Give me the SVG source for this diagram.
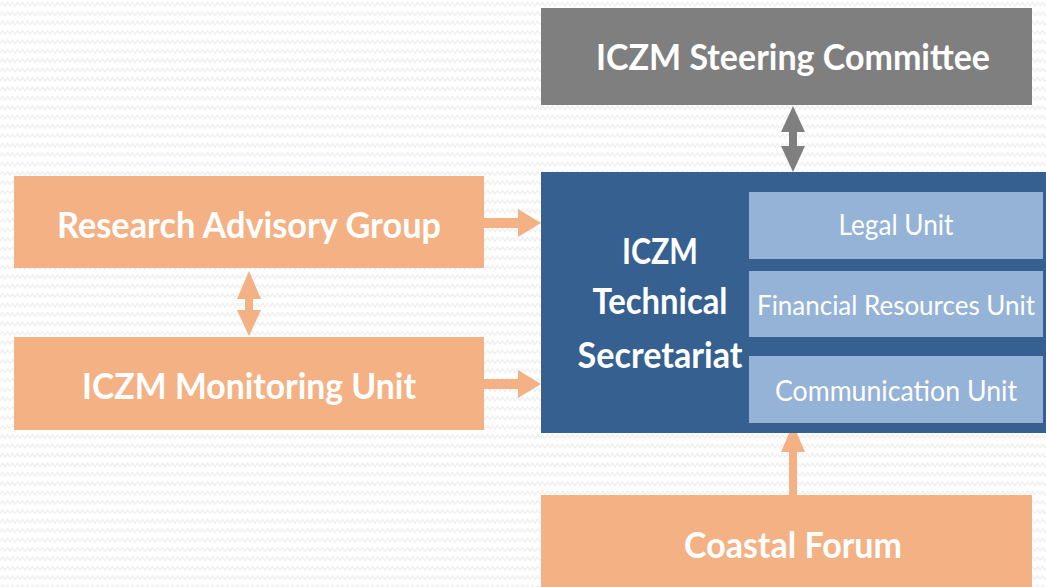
<svg xmlns="http://www.w3.org/2000/svg" width="1046" height="587" viewBox="0 0 1046 587">
  <defs>
    <pattern id="zigzag" width="10" height="9.4" patternUnits="userSpaceOnUse">
      <polyline points="0,6 2.5,2.5 5,6 7.5,2.5 10,6" fill="none" stroke="#efefef" stroke-width="1.5"/>
    </pattern>
    <style>
      .orange { fill: #F4B183; }
      .gray { fill: #7F7F7F; }
      .navy { fill: #366090; }
      .sky { fill: #95B3D7; }
      .title { font-family: Lato, "Open Sans", sans-serif; font-weight: bold; fill: #ffffff; text-anchor: middle; }
      .unit { font-family: Lato, "Open Sans", sans-serif; font-weight: normal; fill: #ffffff; text-anchor: middle; }
    </style>
  </defs>

  <!-- background -->
  <rect x="0" y="0" width="1046" height="587" fill="#ffffff"/>
  <rect x="0" y="0" width="1046" height="587" fill="url(#zigzag)"/>

  <!-- connectors -->
  <g id="connectors">
    <!-- steering committee <-> technical secretariat -->
    <polygon class="gray" points="793,106 805,132 797,132 797,146 805,146 793,172 781,146 789,146 789,132 781,132"/>
    <!-- research advisory group <-> monitoring unit -->
    <polygon class="orange" points="249,271 261,299 253,299 253,310 261,310 249,336 237,310 245,310 245,299 237,299"/>
    <!-- research advisory group -> technical secretariat -->
    <polygon class="orange" points="484,218 518,218 518,209 541,223 518,237 518,228 484,228"/>
    <!-- monitoring unit -> technical secretariat -->
    <polygon class="orange" points="484,379 518,379 518,370 541,384 518,398 518,389 484,389"/>
    <!-- coastal forum -> communication unit -->
    <polygon class="orange" points="789,495 789,452 781,452 793,424 805,452 797,452 797,495"/>
  </g>

  <g id="steering-committee">
    <rect class="gray" x="541" y="8" width="491" height="97"/>
    <text class="title" x="793" y="70" font-size="37" textLength="394" lengthAdjust="spacingAndGlyphs">ICZM Steering Committee</text>
  </g>

  <g id="research-advisory-group">
    <rect class="orange" x="14" y="176" width="470" height="92"/>
    <text class="title" x="249" y="238" font-size="37" textLength="384" lengthAdjust="spacingAndGlyphs">Research Advisory Group</text>
  </g>

  <g id="monitoring-unit">
    <rect class="orange" x="14" y="337" width="470" height="93"/>
    <text class="title" x="249" y="399" font-size="37" textLength="334" lengthAdjust="spacingAndGlyphs">ICZM Monitoring Unit</text>
  </g>

  <g id="technical-secretariat">
    <rect class="navy" x="541" y="172" width="505" height="261"/>
    <text class="title" x="660" y="264" font-size="37" textLength="76" lengthAdjust="spacingAndGlyphs">ICZM</text>
    <text class="title" x="660" y="314" font-size="37" textLength="135" lengthAdjust="spacingAndGlyphs">Technical</text>
    <text class="title" x="660" y="368" font-size="37" textLength="165" lengthAdjust="spacingAndGlyphs">Secretariat</text>
  </g>

  <g id="legal-unit">
    <rect class="sky" x="749" y="192" width="294" height="67"/>
    <text class="unit" x="896" y="235" font-size="28" textLength="115" lengthAdjust="spacingAndGlyphs">Legal Unit</text>
  </g>

  <g id="financial-resources-unit">
    <rect class="sky" x="749" y="271" width="294" height="66"/>
    <text class="unit" x="896" y="315" font-size="27" textLength="278" lengthAdjust="spacingAndGlyphs">Financial Resources Unit</text>
  </g>

  <g id="communication-unit">
    <rect class="sky" x="749" y="356" width="294" height="67"/>
    <text class="unit" x="896" y="401" font-size="28" textLength="242" lengthAdjust="spacingAndGlyphs">Communication Unit</text>
  </g>

  <g id="coastal-forum">
    <rect class="orange" x="541" y="495" width="491" height="92"/>
    <text class="title" x="793" y="558" font-size="37" textLength="218" lengthAdjust="spacingAndGlyphs">Coastal Forum</text>
  </g>
</svg>
